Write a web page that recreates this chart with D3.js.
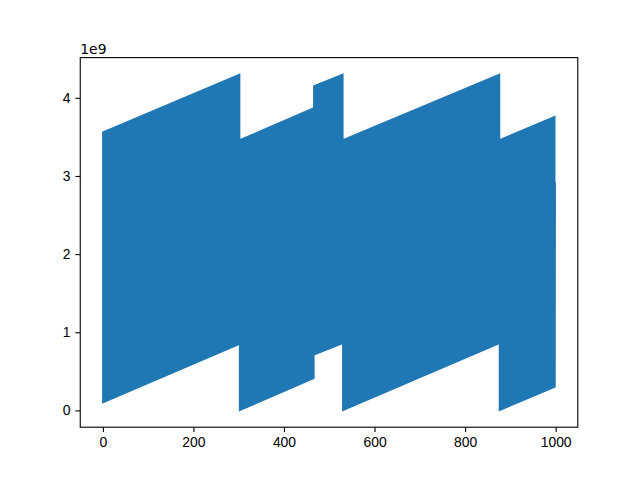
<!DOCTYPE html>
<html>
<head>
<meta charset="utf-8">
<script src="https://cdn.jsdelivr.net/npm/d3@7"></script>
<style>
  body { margin: 0; background: #fff; }
  svg { display: block; font-family: "DejaVu Sans", sans-serif; }
  .tick text { font-size: 13.9px; fill: #000; }
  .tick line { stroke: #000; stroke-width: 1.1px; }
  .domain { display: none; }
</style>
</head>
<body>
<div id="chart"></div>
<script>
// Envelope of the oscillating series (values in units of 1e9)
const breakX    = [0, 302, 466, 530, 876, 998];
const lowStart  = [0.10, 0.00, 0.71, 0.00, 0.00];
const lowEnd    = [0.85, 0.41, 0.86, 0.86, 0.30];
const highStart = [3.56, 3.46, 4.15, 3.46, 3.46];
const highEnd   = [4.30, 3.87, 4.30, 4.30, 3.76];
// last sample of the series
const tailX = [998, 999];
const tailY = [0.30, 2.92];

const xTicks = [0, 200, 400, 600, 800, 1000];
const yTicks = [0, 1, 2, 3, 4];

const W = 642, H = 480;
const M = { LEFT: 80.25, RIGHT: 577.8, TOP: 57.6, BOTTOM: 427.2 };

const svg = d3.select("#chart").append("svg").attr("width", W).attr("height", H);

// build band points from the envelope segments
const band = [];
for (let i = 0; i < breakX.length - 1; i++) {
  band.push({ x: breakX[i], lo: lowStart[i], hi: highStart[i] });
  band.push({ x: breakX[i + 1], lo: lowEnd[i], hi: highEnd[i] });
}

// matplotlib-like 5% margins
const xMin = 0, xMax = 999;
const yMin = d3.min(lowStart.concat(lowEnd)), yMax = d3.max(highEnd);
const xPad = (xMax - xMin) * 0.05, yPad = (yMax - yMin) * 0.05;

const x = d3.scaleLinear().domain([xMin - xPad, xMax + xPad]).range([M.LEFT, M.RIGHT]);
const y = d3.scaleLinear().domain([yMin - yPad, yMax + yPad]).range([M.BOTTOM, M.TOP]);

const color = "#1f77b4";

// the band
svg.append("path")
  .datum(band)
  .attr("fill", color)
  .attr("stroke", color)
  .attr("stroke-width", 1.5)
  .attr("stroke-linejoin", "miter")
  .attr("d", d3.area()
    .x(d => x(d.x))
    .y0(d => y(d.lo))
    .y1(d => y(d.hi)));

// last segment
svg.append("path")
  .datum(tailX.map((v, i) => [v, tailY[i]]))
  .attr("fill", "none")
  .attr("stroke", color)
  .attr("stroke-width", 1.5)
  .attr("d", d3.line().x(d => x(d[0])).y(d => y(d[1])));

// axes
const xAxis = svg.append("g")
  .attr("transform", "translate(0," + M.BOTTOM + ")")
  .call(d3.axisBottom(x).tickValues(xTicks).tickSize(4.86).tickPadding(4.86).tickFormat(d3.format("d")));
xAxis.selectAll("text").attr("dy", "0.76em");

svg.append("g")
  .attr("transform", "translate(" + M.LEFT + ",0)")
  .call(d3.axisLeft(y).tickValues(yTicks).tickSize(4.86).tickPadding(4.86).tickFormat(d3.format("d")));

// frame
svg.append("rect")
  .attr("x", M.LEFT).attr("y", M.TOP)
  .attr("width", M.RIGHT - M.LEFT).attr("height", M.BOTTOM - M.TOP)
  .attr("fill", "none").attr("stroke", "#000").attr("stroke-width", 1.1);

// offset text
svg.append("text")
  .attr("x", M.LEFT).attr("y", M.TOP - 4)
  .attr("font-size", "13.9px")
  .text("1e9");
</script>
</body>
</html>
